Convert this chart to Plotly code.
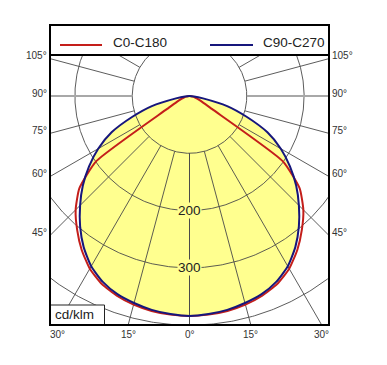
import numpy as np
import plotly.graph_objects as go

# ---------------- data ----------------
angles = [0, 5, 10, 15, 20, 25, 30, 35, 40, 45, 50, 55, 60, 65, 70, 75, 80, 85, 90]  # gamma, degrees
c0_c180 = [384, 383, 381, 377, 371, 362, 348, 328, 305, 281, 251, 199, 45, 25, 15, 10, 6, 3, 0]
c90_c270 = [384, 382, 379, 374, 368, 358, 343, 322, 297, 270, 243, 214, 184, 150, 106, 68, 24, 8, 0]
series_names = ["C0-C180", "C90-C270"]
series_colors = ["#c41e1a", "#16167c"]
fill_color = "#ffff8f"

ring_values = [100, 200, 300, 400]
ring_labels = [200, 300]
spoke_angles = [0, 15, 30, 45, 60, 75, 90, 105, 120, 135, 150, 165, 180]
side_tick_angles = [45, 60, 75, 90, 105]
bottom_tick_angles = [-30, -15, 0, 15, 30]
unit_label = "cd/klm"

# ---------------- layout geometry ----------------
OFF = 8                                  # page body margin
W, H = 387 - OFF, 365 - OFF
PW, PH = 279, 270
ML, MT = 50 - OFF, 55 - OFF
MR, MB = W - ML - PW, H - MT - PH
S = 0.573                                # px per cd/klm
X_HALF = 139.5 / S
Y_TOP = 41 / S
Y_BOT = -229 / S
LEG_H = 30                               # legend strip height (px)


def curve_xy(vals):
    a = np.radians(np.array(angles, dtype=float))
    r = np.array(vals, dtype=float)
    xl = -r[::-1] * np.sin(a[::-1])
    yl = -r[::-1] * np.cos(a[::-1])
    xr = r[1:] * np.sin(a[1:])
    yr = -r[1:] * np.cos(a[1:])
    return np.concatenate([xl, xr]), np.concatenate([yl, yr])


line_shapes = {"C0-C180": dict(shape="spline", smoothing=0.5),
               "C90-C270": dict(shape="spline", smoothing=0.6)}

fig = go.Figure()

# fill (C90-C270 area)
fx, fy = curve_xy(c90_c270)
fig.add_trace(go.Scatter(x=fx, y=fy, fill="toself", fillcolor=fill_color,
                         line=dict(width=0, **line_shapes["C90-C270"]), mode="lines",
                         hoverinfo="skip", showlegend=False))

# rings
t = np.linspace(0, 2 * np.pi, 721)
gx, gy = [], []
for v in ring_values:
    gx += list(v * np.sin(t)) + [None]
    gy += list(v * np.cos(t)) + [None]
# spokes (except 90)
for a in spoke_angles:
    if a == 90:
        continue
    ar = np.radians(a)
    for side in (-1, 1):
        gx += [side * ring_values[0] * np.sin(ar), side * 800 * np.sin(ar), None]
        gy += [-ring_values[0] * np.cos(ar), -800 * np.cos(ar), None]
fig.add_trace(go.Scatter(x=gx, y=gy, mode="lines", line=dict(color="#4a4a4a", width=0.9),
                         hoverinfo="skip", showlegend=False))
# 90 degree spoke
hx = [-ring_values[0], -800, None, ring_values[0], 800]
hy = [0, 0, None, 0, 0]
fig.add_trace(go.Scatter(x=hx, y=hy, mode="lines", line=dict(color="#a8a8a8", width=2),
                         hoverinfo="skip", showlegend=False))

# curves
for vals, name, col in zip([c0_c180, c90_c270], series_names, series_colors):
    cx, cy = curve_xy(vals)
    fig.add_trace(go.Scatter(x=cx, y=cy, mode="lines", name=name,
                             line=dict(color=col, width=2, **line_shapes[name]),
                             hoverinfo="skip", showlegend=False))

ann = []
font_small = dict(family="Arial, Liberation Sans, sans-serif", size=10, color="#333333")
font_big = dict(family="Arial, Liberation Sans, sans-serif", size=13.5, color="#222222")

# side angle labels
for a in side_tick_angles:
    ar = np.radians(a)
    y = -X_HALF * np.cos(ar) / np.sin(ar)
    txt = f"{a}°"
    ann.append(dict(x=-X_HALF, y=y, xref="x", yref="y", text=txt, showarrow=False,
                    xanchor="right", yanchor="middle", xshift=-1, yshift=3, font=font_small))
    ann.append(dict(x=X_HALF, y=y, xref="x", yref="y", text=txt, showarrow=False,
                    xanchor="left", yanchor="middle", xshift=1, yshift=3, font=font_small))
# bottom angle labels
for a in bottom_tick_angles:
    x = -Y_BOT * np.tan(np.radians(a))
    ann.append(dict(x=x, y=Y_BOT, xref="x", yref="y", text=f"{abs(a)}°", showarrow=False,
                    xanchor="center", yanchor="top", yshift=-2, font=font_small))
# ring value labels
for v in ring_labels:
    ann.append(dict(x=0, y=-v, xref="x", yref="y", text=str(v), showarrow=False,
                    xanchor="center", yanchor="middle", bgcolor=fill_color, borderpad=0,
                    font=font_big))

# legend (manual, in the strip above the plot); page pixel -> paper coords
def px_to_paper_x(px):
    return (px - OFF - ML) / PW

def px_to_paper_y(py):
    return (MT + PH - (py - OFF)) / PH

shapes = []
leg_items = [(60, 102, 111), (210, 253, 261)]
for (x0, x1, tx), name, col in zip(leg_items, series_names, series_colors):
    shapes.append(dict(type="line", xref="paper", yref="paper",
                       x0=px_to_paper_x(x0), x1=px_to_paper_x(x1),
                       y0=px_to_paper_y(45), y1=px_to_paper_y(45),
                       line=dict(color=col, width=2)))
    ann.append(dict(x=px_to_paper_x(tx), y=px_to_paper_y(43), xref="paper", yref="paper",
                    text=name, showarrow=False, xanchor="left", yanchor="middle", font=font_big))

# unit box
shapes.append(dict(type="rect", xref="paper", yref="paper", x0=0, x1=px_to_paper_x(104.5),
                   y0=0, y1=px_to_paper_y(305), fillcolor="white",
                   line=dict(color="#222222", width=1)))
ann.append(dict(x=px_to_paper_x(74.5), y=px_to_paper_y(314.5), xref="paper", yref="paper",
                text=unit_label, showarrow=False, xanchor="center", yanchor="middle", font=font_big))

# frame + separator
shapes.append(dict(type="rect", xref="paper", yref="paper", x0=0, x1=1, y0=0,
                   y1=1 + LEG_H / PH, line=dict(color="black", width=2)))
shapes.append(dict(type="line", xref="paper", yref="paper", x0=0, x1=1, y0=1, y1=1,
                   line=dict(color="black", width=2)))

fig.update_layout(
    width=W, height=H,
    margin=dict(l=ML, r=MR, t=MT, b=MB),
    paper_bgcolor="white", plot_bgcolor="white",
    xaxis=dict(range=[-X_HALF, X_HALF], visible=False, fixedrange=True),
    yaxis=dict(range=[Y_BOT, Y_TOP], visible=False, fixedrange=True),
    shapes=shapes, annotations=ann, showlegend=False,
)

fig.write_html("out.html")
